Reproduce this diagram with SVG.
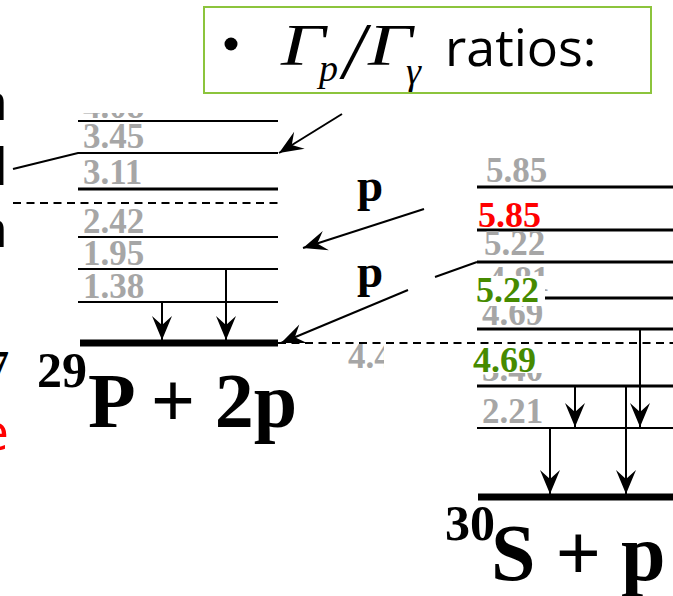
<svg xmlns="http://www.w3.org/2000/svg" width="673" height="596" viewBox="0 0 673 596">
<style>
.lv{fill:#a6a6a6;font-family:"Liberation Serif",serif;font-weight:bold;font-size:35px}
.hl{font-family:"Liberation Serif",serif;font-weight:bold;font-size:36px}
.big{fill:#000;font-family:"Liberation Serif",serif;font-weight:bold}
.frag{font-family:"Open Sans","Liberation Sans",sans-serif;font-size:52px}
.ln{stroke:#000;stroke-width:2.2;fill:none}
.lnr{stroke:#000;stroke-width:2.8;fill:none}
.gnd{stroke:#000;stroke-width:7;fill:none}
.dash{stroke:#000;stroke-width:2;stroke-dasharray:8 5.5;fill:none}
.ar{stroke:#000;stroke-width:2;fill:none;marker-end:url(#ah)}
.sym{font-family:"Liberation Serif",serif;font-style:italic;fill:#000}
</style>
<defs>
<marker id="ah" viewBox="-26 -12 27 24" refX="0" refY="0" markerWidth="27" markerHeight="24" markerUnits="userSpaceOnUse" orient="auto">
<path d="M0,0 L-24,-10 L-15,0 L-24,10 Z" fill="#000"/>
</marker>
<clipPath id="cTop"><rect x="0" y="113" width="673" height="483"/></clipPath>
<clipPath id="c44"><rect x="0" y="344" width="384" height="40"/></clipPath>
</defs>
<rect width="673" height="596" fill="#fff"/>

<g id="title-box">
<rect x="204" y="7" width="447" height="86" fill="#fff" stroke="#8cc43c" stroke-width="2"/>
<circle cx="231" cy="44" r="6.5" fill="#000"/>
<text class="sym" transform="translate(281,65) scale(1.3,1)" font-size="60">Γ</text>
<text class="sym" x="319" y="81" font-size="38">p</text>
<text class="sym" x="343" y="78" font-size="80">/</text>
<text class="sym" transform="translate(368,65) scale(1.3,1)" font-size="60">Γ</text>
<text class="sym" x="406" y="84" font-size="38">γ</text>
<text x="445" y="66" font-family="'Open Sans','Liberation Sans',sans-serif" font-size="52" fill="#000">ratios:</text>
</g>

<g id="left-fragments">
<text class="frag" x="8" y="120" text-anchor="end" fill="#000">n</text>
<text class="frag" x="8" y="185" text-anchor="end" fill="#000">l</text>
<text class="frag" x="8" y="247" text-anchor="end" fill="#000">n</text>
<text class="big" x="9" y="378" text-anchor="end" font-size="40">7</text>
<text class="frag" x="9" y="450" text-anchor="end" fill="#ff0000">e</text>
</g>

<g id="p29-levels">
<text class="lv" x="83" y="118" clip-path="url(#cTop)">4.08</text>
<line class="ln" x1="78" y1="121" x2="278" y2="121"/>
<text class="lv" x="83" y="148">3.45</text>
<polyline class="ln" points="13,169 78,153 278,153"/>
<text class="lv" x="83" y="184">3.11</text>
<line class="lnr" x1="78" y1="189" x2="278" y2="189"/>
<line class="dash" x1="13" y1="203" x2="278" y2="203"/>
<text class="lv" x="83" y="233">2.42</text>
<line class="ln" x1="78" y1="237" x2="278" y2="237"/>
<text class="lv" x="83" y="265">1.95</text>
<line class="ln" x1="78" y1="269" x2="278" y2="269"/>
<text class="lv" x="83" y="298">1.38</text>
<line class="ln" x1="78" y1="302" x2="278" y2="302"/>
<line class="gnd" x1="80" y1="343" x2="278" y2="343"/>
</g>

<g id="p29-label">
<text class="big" x="37" y="387" font-size="50">29</text>
<text class="big" x="88" y="427" font-size="78">P + 2p</text>
</g>

<g id="s30-levels">
<text class="lv" x="486" y="182">5.85</text>
<line class="lnr" x1="477" y1="187" x2="673" y2="187"/>
<text class="hl" x="478" y="227" fill="#ff0000">5.85</text>
<line class="lnr" x1="477" y1="230" x2="673" y2="230"/>
<text class="lv" x="484" y="255">5.22</text>
<line class="lnr" x1="477" y1="262" x2="673" y2="262"/>
<text class="lv" x="488" y="291">4.81</text>
<line class="lnr" x1="477" y1="298" x2="673" y2="298"/>
<text class="lv" x="482" y="325">4.69</text>
<rect x="473" y="276" width="72" height="30" fill="#fff"/>
<text class="hl" x="476" y="302" fill="#468a00">5.22</text>
<line class="lnr" x1="477" y1="329" x2="673" y2="329"/>
<line class="dash" x1="278" y1="343" x2="673" y2="343"/>
<text class="lv" x="348" y="368" clip-path="url(#c44)">4.40</text>
<text class="lv" x="482" y="381">3.40</text>
<rect x="471" y="345" width="74" height="28" fill="#fff"/>
<text class="hl" x="473" y="372" fill="#468a00">4.69</text>
<line class="lnr" x1="477" y1="386" x2="673" y2="386"/>
<text class="lv" x="482" y="423">2.21</text>
<line class="ln" x1="477" y1="428" x2="673" y2="428"/>
<line class="gnd" x1="478" y1="497" x2="673" y2="497"/>
</g>

<g id="s30-label">
<text class="big" x="445" y="540" font-size="50">30</text>
<text class="big" x="491" y="580" font-size="80">S + p</text>
</g>

<g id="proton-labels">
<text class="big" x="357" y="201" font-size="47">p</text>
<text class="big" x="357" y="287" font-size="47">p</text>
</g>

<g id="connectors">
<line class="ar" x1="342" y1="114" x2="279" y2="153"/>
<line class="ar" x1="424" y1="209" x2="303" y2="248"/>
<line class="ar" x1="408" y1="290" x2="281" y2="343"/>
<line stroke="#000" stroke-width="2" x1="435" y1="277" x2="477" y2="262"/>
<line class="ar" x1="162" y1="302" x2="162" y2="340"/>
<line class="ar" x1="226" y1="269" x2="226" y2="340"/>
<line class="ar" x1="575" y1="386" x2="575" y2="427"/>
<line class="ar" x1="640" y1="329" x2="640" y2="427"/>
<line class="ar" x1="550" y1="428" x2="550" y2="494"/>
<line class="ar" x1="626" y1="386" x2="626" y2="494"/>
</g>
</svg>
